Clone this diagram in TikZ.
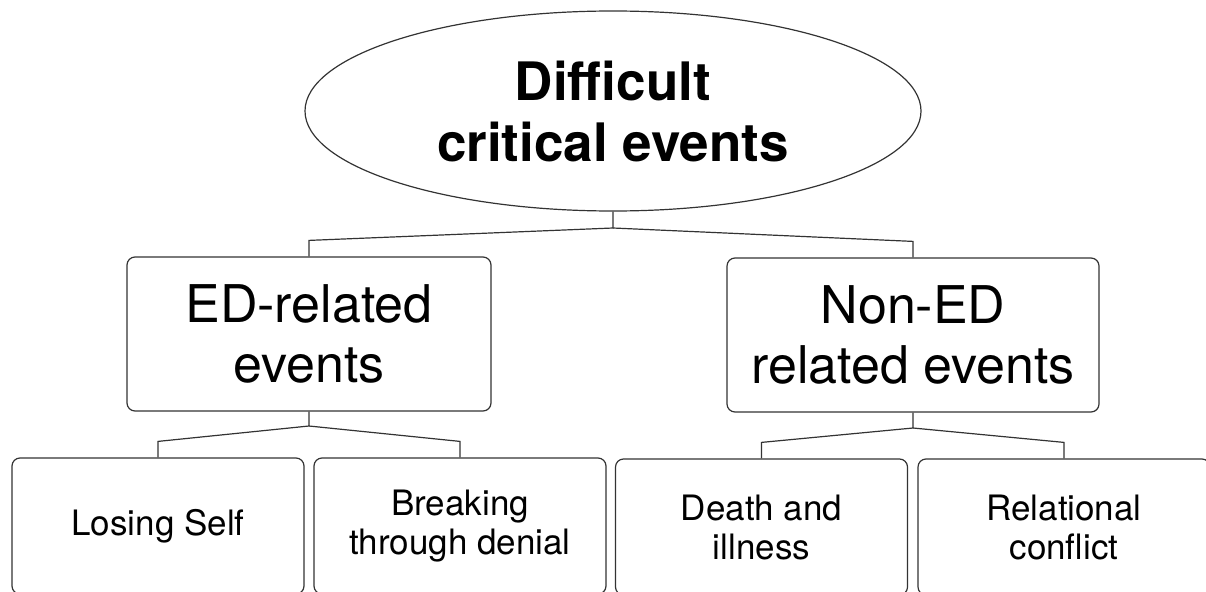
\documentclass[tikz,border=0pt]{standalone}
\usepackage{fontspec}
\setmainfont{TeX Gyre Heros}
\usetikzlibrary{shapes.geometric}

\tikzset{
  topnode/.style={ellipse, draw=black!80, line width=1.2pt, minimum width=616pt, minimum height=200pt, inner sep=0pt, align=center, font=\fontsize{53}{61}\selectfont\bfseries},
  midbox/.style={rectangle, rounded corners=8pt, draw=black!80, line width=1.2pt, minimum height=154pt, inner sep=0pt, align=center, font=\fontsize{52}{60}\selectfont},
  leafbox/.style={rectangle, rounded corners=8pt, draw=black!80, line width=1.2pt, minimum width=292pt, minimum height=136pt, inner sep=0pt, align=center, font=\fontsize{35}{39}\selectfont},
  link/.style={draw=black!80, line width=1.2pt}
}

\begin{document}
\begin{tikzpicture}[x=1pt,y=-1pt]
    \useasboundingbox (0,0) rectangle (1206,591);
    \clip (0,0) rectangle (1206,591);
    \node[topnode] (top) at (613,111) {Difficult\\critical events};
    \node[midbox, minimum width=364pt] (ed) at (309,334) {ED-related\\events};
    \node[midbox, minimum width=372pt] (ned) at (913,335) {Non-ED\\related events};
    \node[leafbox] (lose) at (158,526) {Losing Self};
    \node[leafbox] (denial) at (460,526) {Breaking\\through denial};
    \node[leafbox] (death) at (761.5,527) {Death and\\illness};
    \node[leafbox] (conflict) at (1064,527) {Relational\\conflict};
    \coordinate (jtop) at (613,228);
    \coordinate (jed) at (309,426);
    \coordinate (jned) at (913,428);
    \draw[link] (top.south) -- (jtop) -- ([yshift=16pt]ed.north) -- (ed.north);
    \draw[link] (jtop) -- ([yshift=16pt]ned.north) -- (ned.north);
    \draw[link] (ed.south) -- (jed) -- ([yshift=16pt]lose.north) -- (lose.north);
    \draw[link] (jed) -- ([yshift=16pt]denial.north) -- (denial.north);
    \draw[link] (ned.south) -- (jned) -- ([yshift=16pt]death.north) -- (death.north);
    \draw[link] (jned) -- ([yshift=16pt]conflict.north) -- (conflict.north);
  \end{tikzpicture}
\end{document}
